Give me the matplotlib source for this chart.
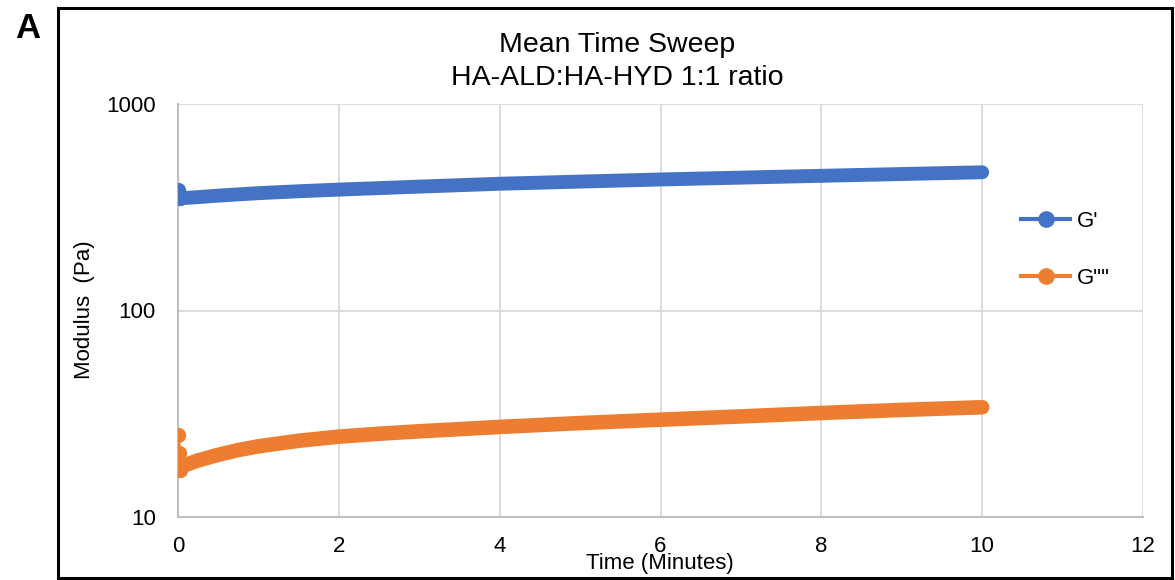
import numpy as np
import matplotlib.pyplot as plt
from matplotlib.lines import Line2D
from matplotlib.patches import Rectangle

plt.rcParams['font.family'] = ['Liberation Sans', 'DejaVu Sans']

# Temps (minutes) et modules (Pa)
t_gp = [0.0, 0.02, 0.1, 0.25, 0.5, 0.75, 1.0, 1.5, 2.0, 3.0, 4.0, 5.0, 6.0, 7.0, 8.0, 9.0, 10.0]
g_prime = [384, 349, 351, 354, 360, 365, 370, 378, 385, 398, 411, 421, 431, 440, 449, 458, 467]

t_gpp = [0.0, 0.01, 0.02, 0.05, 0.1, 0.25, 0.5, 0.75, 1.0, 1.5, 2.0, 2.5, 3.0, 4.0, 5.0, 6.0, 7.0, 8.0, 9.0, 10.0]
g_second = [24.9, 20.5, 16.9, 17.5, 17.9, 18.8, 20.0, 21.1, 22.0, 23.4, 24.5, 25.3, 26.0, 27.3, 28.5, 29.6, 30.7, 31.9, 33.0, 34.0]

x_ticks = [0, 2, 4, 6, 8, 10, 12]
y_ticks = [10, 100, 1000]

blue = '#4472C4'
orange = '#ED7D31'

fig = plt.figure(figsize=(11.75, 5.8), dpi=100)
ax = fig.add_axes([178 / 1175, 1 - 517 / 580, (1143 - 178) / 1175, (517 - 104) / 580])

# bande épaisse (points très serrés) + premiers points isolés
ax.plot(t_gp[1:], g_prime[1:], color=blue, lw=10, solid_capstyle='round',
        solid_joinstyle='round', zorder=3)
ax.plot(t_gp[:2], g_prime[:2], color=blue, lw=3, marker='o', ms=10, zorder=3)
ax.plot(t_gpp[2:], g_second[2:], color=orange, lw=10.5, solid_capstyle='round',
        solid_joinstyle='round', zorder=3)
ax.plot(t_gpp[:3], g_second[:3], color=orange, lw=3, marker='o', ms=10, zorder=3)

ax.set_yscale('log')
ax.set_xlim(0, 12)
ax.set_ylim(10, 1000)
ax.set_xticks(x_ticks)
ax.set_xticklabels([str(v) for v in x_ticks])
ax.set_yticks(y_ticks)
ax.set_yticklabels([str(v) for v in y_ticks])
ax.yaxis.set_minor_locator(plt.NullLocator())
ax.tick_params(axis='both', length=0, labelsize=16)
ax.tick_params(axis='x', pad=14)
ax.tick_params(axis='y', pad=16)

ax.grid(True, color='#d9d9d9', lw=1.3, zorder=0)
ax.set_axisbelow(True)
for s in ['top', 'right']:
    ax.spines[s].set_visible(False)
for s in ['left', 'bottom']:
    ax.spines[s].set_color('#bfbfbf')
    ax.spines[s].set_linewidth(1.5)

fig.text(660 / 1175, 1 - 563 / 580, 'Time (Minutes)', ha='center', va='center', fontsize=16)
fig.text(85 / 1175, 1 - 310 / 580, 'Modulus  (Pa)', ha='center', va='center',
         rotation=90, fontsize=16)
fig.text(617 / 1175, 1 - 45 / 580, 'Mean Time Sweep', ha='center', va='center', fontsize=20.5)
fig.text(617 / 1175, 1 - 78 / 580, 'HA-ALD:HA-HYD 1:1 ratio', ha='center', va='center', fontsize=20.5)
fig.text(28 / 1175, 1 - 28 / 580, 'A', ha='center', va='center', fontsize=25, fontweight='bold')

handles = [Line2D([], [], color=blue, lw=3, marker='o', ms=11),
           Line2D([], [], color=orange, lw=3, marker='o', ms=11)]
fig.legend(handles, ["G'", 'G""'], loc='center left',
           bbox_to_anchor=(1010 / 1175, 1 - 250 / 580), frameon=False,
           fontsize=16, handlelength=2.2, handletextpad=0.3, labelspacing=1.6,
           borderpad=0)

fig.patches.append(Rectangle((58 / 1175, 1 - 578 / 580), (1172 - 58) / 1175, (578 - 8) / 580,
                             transform=fig.transFigure, fill=False, ec='black', lw=2.2))

fig.savefig('out.png', dpi=100)
